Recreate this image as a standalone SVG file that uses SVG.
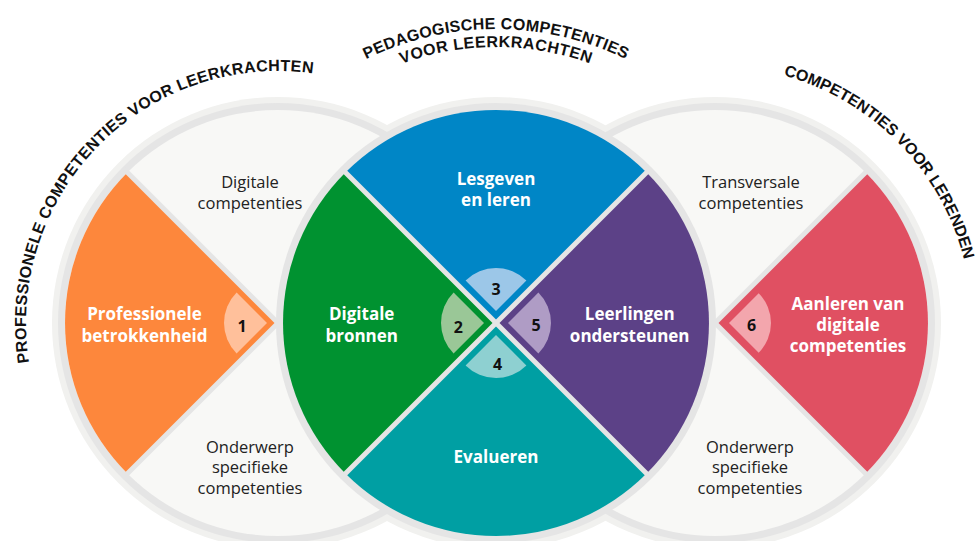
<svg xmlns="http://www.w3.org/2000/svg" width="976" height="541" viewBox="0 0 976 541">
<style>
.halo{fill:#f1f1ef}
.ring{fill:#e5e5e5}
.base{fill:#f8f8f6}
.gap{stroke:#e5e5e5;stroke-width:5;fill:none}
.lbl{font-family:"Open Sans","Noto Sans",sans-serif;font-weight:700;font-size:17px;fill:#ffffff;text-anchor:middle}
.num{font-family:"Open Sans","Noto Sans",sans-serif;font-weight:700;font-size:16px;fill:#111111;text-anchor:middle}
.sub{font-family:"Open Sans","Noto Sans",sans-serif;font-size:16.5px;fill:#222222;text-anchor:middle}
.title{font-family:"Liberation Sans",Arial,sans-serif;font-weight:700;font-size:16px;fill:#111111}
</style>
<defs>
<path id="arcL" d="M72.8 469.3 A252 252 0 0 1 420.7 115.3"/>
<path id="arcR" d="M608.8 89 A257 257 0 0 1 946.8 434"/>
<path id="arcM1" d="M241.4 176 A294 294 0 0 1 750.6 176"/>
<path id="arcM2" d="M257 185 A276 276 0 0 1 735 185"/>
</defs>

<g id="halos">
<circle class="halo" cx="278" cy="323" r="226"/>
<circle class="halo" cx="715" cy="323" r="226"/>
<circle class="halo" cx="496" cy="323" r="226"/>
</g>

<g id="circle-left">
<circle class="ring" cx="278" cy="323" r="220"/>
<circle class="base" cx="278" cy="323" r="213"/>
<g id="node-digitale-competenties">
<text class="sub" x="250" y="188">Digitale</text>
<text class="sub" x="250" y="208.5">competenties</text>
</g>
<g id="node-onderwerp-left">
<text class="sub" x="250" y="452.7">Onderwerp</text>
<text class="sub" x="250" y="473">specifieke</text>
<text class="sub" x="250" y="494.3">competenties</text>
</g>
<g id="node-1-professionele-betrokkenheid">
<path fill="#fd873c" d="M278 323 L127.4 473.6 A213 213 0 0 1 127.4 172.4 Z"/>
<line class="gap" x1="278" y1="323" x2="124" y2="169"/>
<line class="gap" x1="278" y1="323" x2="124" y2="477"/>
<path fill="#ffc09b" d="M267 323 L236.6 353.4 A43 43 0 0 1 236.6 292.6 Z"/>
<text class="num" x="242" y="332">1</text>
<text class="lbl" x="144.5" y="320">Professionele</text>
<text class="lbl" x="144.5" y="341.7">betrokkenheid</text>
</g>
</g>

<g id="circle-right">
<circle class="ring" cx="715" cy="323" r="220"/>
<circle class="base" cx="715" cy="323" r="213"/>
<g id="node-transversale-competenties">
<text class="sub" x="751" y="188">Transversale</text>
<text class="sub" x="751" y="208.5">competenties</text>
</g>
<g id="node-onderwerp-right">
<text class="sub" x="750" y="452.7">Onderwerp</text>
<text class="sub" x="750" y="473">specifieke</text>
<text class="sub" x="750" y="494.3">competenties</text>
</g>
<g id="node-6-aanleren">
<path fill="#e05062" d="M715 323 L865.6 172.4 A213 213 0 0 1 865.6 473.6 Z"/>
<line class="gap" x1="715" y1="323" x2="869" y2="169"/>
<line class="gap" x1="715" y1="323" x2="869" y2="477"/>
<path fill="#f3a6ad" d="M729 323 L758.7 293.3 A42 42 0 0 1 758.7 352.7 Z"/>
<text class="num" x="751.7" y="331">6</text>
<text class="lbl" x="848" y="310">Aanleren van</text>
<text class="lbl" x="848" y="331">digitale</text>
<text class="lbl" x="848" y="351.7">competenties</text>
</g>
</g>

<g id="circle-middle">
<circle class="ring" cx="496" cy="323" r="220"/>
<g id="node-3-lesgeven">
<path fill="#0086c6" d="M496 323 L345.4 172.4 A213 213 0 0 1 646.6 172.4 Z"/>
</g>
<g id="node-5-leerlingen">
<path fill="#5c4187" d="M496 323 L646.6 172.4 A213 213 0 0 1 646.6 473.6 Z"/>
</g>
<g id="node-4-evalueren">
<path fill="#009fa3" d="M496 323 L646.6 473.6 A213 213 0 0 1 345.4 473.6 Z"/>
</g>
<g id="node-2-digitale-bronnen">
<path fill="#009230" d="M496 323 L345.4 473.6 A213 213 0 0 1 345.4 172.4 Z"/>
</g>
<line class="gap" x1="342" y1="169" x2="650" y2="477"/>
<line class="gap" x1="650" y1="169" x2="342" y2="477"/>
<path fill="#9cc7e8" d="M496 311 L465.6 280.6 A43 43 0 0 1 526.4 280.6 Z"/>
<path fill="#9ac797" d="M484 323 L453.6 353.4 A43 43 0 0 1 453.6 292.6 Z"/>
<path fill="#af9cc5" d="M508 323 L538.4 292.6 A43 43 0 0 1 538.4 353.4 Z"/>
<path fill="#8ed0d1" d="M496 335 L526.4 365.4 A43 43 0 0 1 465.6 365.4 Z"/>
<text class="num" x="496" y="295">3</text>
<text class="num" x="458.3" y="333">2</text>
<text class="num" x="536" y="331">5</text>
<text class="num" x="497.7" y="370">4</text>
<text class="lbl" x="496" y="185">Lesgeven</text>
<text class="lbl" x="496" y="205.7">en leren</text>
<text class="lbl" x="361.7" y="320">Digitale</text>
<text class="lbl" x="361.7" y="341.7">bronnen</text>
<text class="lbl" x="629.7" y="320">Leerlingen</text>
<text class="lbl" x="629.7" y="341.7">ondersteunen</text>
<text class="lbl" x="496" y="463.3">Evalueren</text>
</g>

<g id="titles">
<text class="title" text-anchor="middle" letter-spacing="0.35"><textPath href="#arcL" startOffset="50%">PROFESSIONELE COMPETENTIES VOOR LEERKRACHTEN</textPath></text>
<text class="title" text-anchor="middle"><textPath href="#arcR" startOffset="50%">COMPETENTIES VOOR LERENDEN</textPath></text>
<text class="title" text-anchor="middle" letter-spacing="0.3"><textPath href="#arcM1" startOffset="50%">PEDAGOGISCHE COMPETENTIES</textPath></text>
<text class="title" text-anchor="middle" letter-spacing="0.5"><textPath href="#arcM2" startOffset="50%">VOOR LEERKRACHTEN</textPath></text>
</g>

<g id="connectors"/>
</svg>
